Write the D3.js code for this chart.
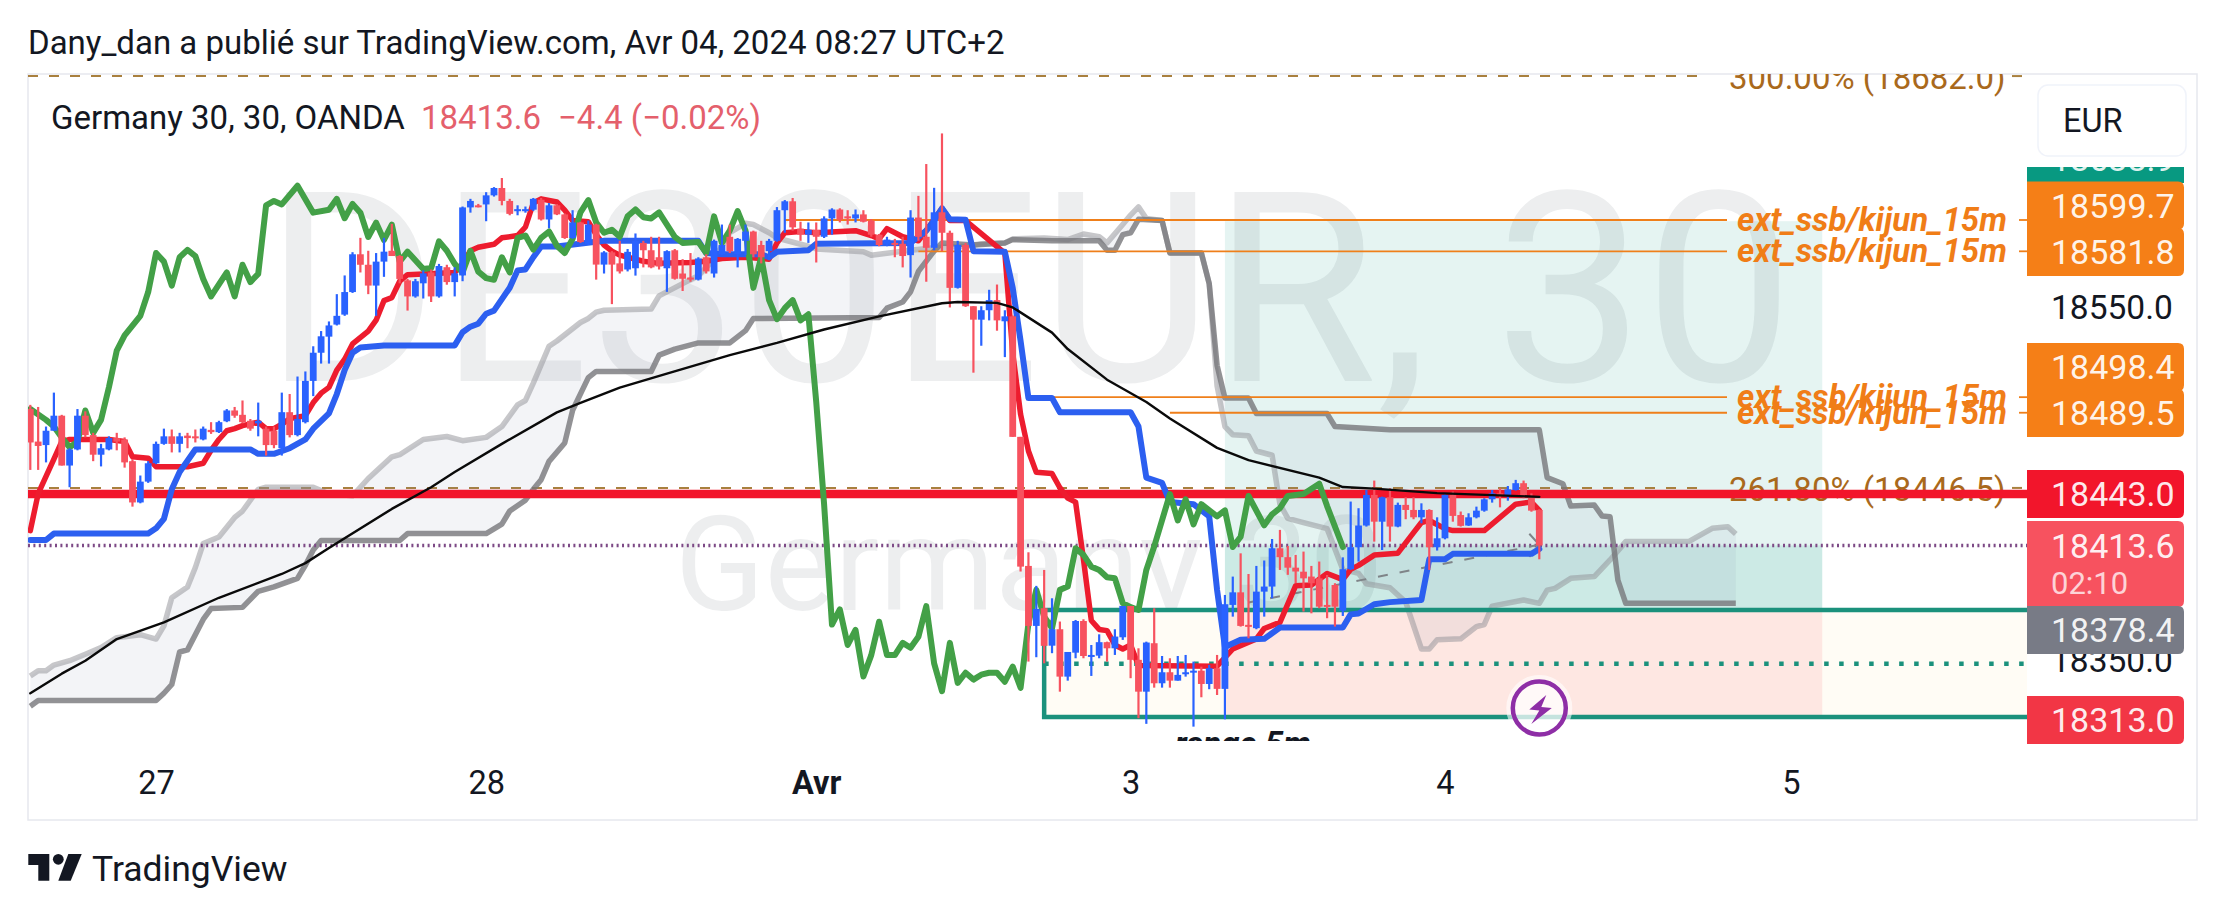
<!DOCTYPE html>
<html><head><meta charset="utf-8">
<script src="https://cdn.jsdelivr.net/npm/d3@7/dist/d3.min.js"></script>
<style>html,body{margin:0;padding:0;background:#fff}svg{display:block;font-family:Roboto,sans-serif}</style>
</head><body><div id="c"></div>
<script>
// [open, high, low, close] per 30-minute bar
const ohlc=[
[18491.6,18494,18456.8,18472.5],[18473,18492.8,18456.8,18470.5],[18471,18481.6,18461.1,18479.2],[18479.2,18501,18479.2,18487.8],[18487.8,18488.3,18459.3,18459.3],
[18459.3,18469.2,18446.9,18468.5],[18468.5,18491.6,18468,18487.8],[18487.8,18490.3,18475.4,18476.7],[18476.7,18478,18461.8,18465.5],[18465.5,18471.7,18458.8,18469.2],
[18468.5,18476,18468,18475],[18475,18478,18468,18473],[18474.2,18475.4,18458.1,18461.1],[18461.8,18463,18435.8,18438.2],[18438.2,18453.6,18437.7,18450.1],
[18450.1,18461.8,18449.4,18460.6],[18460.6,18473,18460.1,18471.7],[18471.7,18480.4,18471.2,18476],[18476,18479.9,18466.8,18471.7],[18471.7,18478,18466.8,18476],
[18476.4,18478,18469.2,18475],[18476,18479.9,18472.5,18475],[18474.2,18481.6,18473.7,18480.4],[18479.7,18484.1,18477.4,18478.4],[18478.4,18484.9,18477.9,18484.1],
[18484.6,18491.6,18484.1,18490.8],[18490.8,18492.8,18486.6,18487.8],[18488.3,18496.5,18483.4,18484.1],[18484.9,18485.9,18479.2,18480.4],[18483.4,18495.3,18476,18484.9],
[18480.4,18481.6,18465,18471],[18479.2,18481.6,18469.2,18471],[18469.2,18501,18465,18489.8],[18489.8,18500.2,18475.4,18476.7],[18476.7,18510.2,18476,18485.9],
[18484.1,18513.1,18483.4,18507.7],[18507.7,18527.5,18499,18523.8],[18523.8,18536.2,18517.6,18533.2],[18533,18541.7,18517.6,18539.4],[18539.9,18557.3,18539.4,18544.9],
[18545.6,18568,18544.9,18558.5],[18558.5,18581.3,18558,18580.1],[18580.1,18589.5,18569.7,18574.1],[18574.1,18582.1,18557.3,18562.2],[18562.2,18580.8,18544.9,18575.9],
[18575.9,18589.5,18567.2,18581.6],[18582.1,18597.5,18579.1,18579.1],[18579.1,18579.6,18563.5,18566],[18565.2,18566,18547.9,18556],[18556,18566,18555.3,18564.7],
[18563.5,18570.9,18554.8,18569.2],[18569.7,18571.4,18552.8,18556],[18556,18574.6,18555.3,18573.4],[18572.7,18574.1,18562.7,18564.2],[18564.2,18572.7,18556,18569.2],
[18568,18607.4,18564.7,18606.9],[18606.9,18611.8,18603.9,18610.6],[18608.1,18608.9,18606.9,18607.4],[18608.6,18615.6,18599,18613.8],[18613.8,18618.5,18613.1,18618],
[18618,18623.7,18608.1,18610.6],[18610.6,18611.8,18602.4,18603.2],[18605.1,18608.1,18602.4,18605.9],[18605.1,18607.4,18603.9,18605.9],[18605.6,18612.3,18604.9,18611.8],
[18611.3,18612.3,18599.4,18600],[18600,18609.4,18595,18608.1],[18608.1,18608.8,18602.5,18602.9],[18602.9,18603.4,18588.9,18589.4],[18589.4,18605.3,18588.9,18598.3],
[18598.3,18598.7,18586.6,18587.1],[18586.1,18599.4,18585.4,18597.1],[18597.1,18597.6,18565.6,18574.2],[18574.2,18581.9,18569.1,18581.2],[18581.2,18581.9,18551.6,18574.2],
[18574.9,18587.8,18569.1,18570.3],[18571.4,18583.1,18570.3,18581.5],[18572.1,18592,18567.9,18587.8],[18586.6,18587.8,18572.6,18582.4],[18582.4,18590.1,18572.1,18572.6],
[18578.4,18590.1,18571.4,18573.1],[18572.1,18582.4,18558.6,18581.9],[18582.4,18583.1,18565.6,18566.1],[18569.1,18577.3,18559.1,18566.1],[18566.8,18580.8,18564.4,18565.6],
[18565.6,18578.4,18565.1,18577.7],[18578.4,18580.1,18569.1,18570.3],[18569.1,18588.5,18566.8,18587.8],[18580.1,18597.1,18579.6,18585.4],[18590.1,18597.1,18580.8,18581.9],
[18580.1,18589.4,18572.6,18588.9],[18587.8,18597.1,18579.6,18593.1],[18593.1,18593.6,18578.4,18580.1],[18585.4,18587.8,18574.9,18578.4],[18581.9,18588.9,18576.8,18587.8],
[18587.8,18607.1,18587.3,18605.3],[18605.3,18611.1,18592.4,18610.4],[18610.4,18612.3,18593.6,18595.5],[18594.8,18598.7,18587.8,18591.3],[18591.3,18598.3,18586.6,18594.1],
[18594.1,18598.3,18575.4,18590.1],[18590.1,18601.8,18589.4,18600.6],[18600.6,18606.4,18591.3,18605.7],[18605.7,18606.4,18598.3,18599.9],[18601.8,18605.3,18597.1,18600.6],
[18600.6,18605.7,18598.3,18602.9],[18602.9,18605.3,18598.3,18598.7],[18599.4,18600.2,18590.1,18591.3],[18591.3,18591.7,18584.7,18585.4],[18586.1,18590.1,18584.7,18588.5],
[18586.6,18588.9,18578.4,18586.1],[18586.1,18590.1,18572.6,18579.1],[18579.6,18605.3,18566.8,18601.1],[18601.1,18613.5,18587.8,18590.1],[18590.1,18631.7,18564.4,18583.8],
[18583.8,18618.1,18582.4,18604.1],[18604.1,18649.2,18581.9,18592.4],[18592.4,18593.6,18549.7,18560.9],[18560.9,18587.8,18560.5,18585.4],[18585.4,18586.6,18550,18550.4],
[18550.4,18550.4,18512.4,18542.7],[18542.7,18550.4,18527.8,18548.1],[18548.1,18559.8,18542.3,18553.9],[18553.9,18562.8,18536.4,18542.3],[18541.8,18548.1,18521.3,18544.6],
[18544.6,18545.1,18475.7,18475.7],[18475.7,18475.7,18398.7,18401.5],[18401.9,18409.7,18347.2,18367.6],[18367.6,18390.5,18349.7,18377.3],[18377.7,18399.6,18346.2,18356.2],
[18356.3,18383.4,18352,18365.7],[18365.7,18370.1,18330,18338.6],[18338.6,18352.7,18336.3,18352.7],[18352.3,18371,18349.1,18370.4],[18370.4,18371.4,18349.1,18350.4],
[18350.4,18356.7,18339,18351],[18350.6,18362.8,18349.1,18358.3],[18358.3,18358.6,18347.2,18354.8],[18354.8,18365.7,18351,18361.5],[18361.1,18379,18359.6,18379],
[18379,18379,18337.7,18348.2],[18348.2,18354.8,18314.8,18330],[18330,18358.6,18311.6,18358.1],[18357.7,18377.7,18332.3,18334.8],[18334.8,18350.4,18332.3,18341.1],
[18341.1,18349.1,18332.3,18336.3],[18336.3,18350.4,18336.3,18339.6],[18340.1,18351,18338.6,18341.1],[18341.3,18347.2,18310,18342],[18342,18344.3,18326.8,18334.4],
[18334.4,18345.3,18331.4,18343.4],[18343.4,18351,18328.1,18331.6],[18331.6,18385.3,18314.2,18380],[18379.6,18395.8,18372.9,18386.8],[18386.8,18409.1,18367.2,18367.6],
[18368.2,18397.3,18360.5,18367.6],[18366.3,18401.9,18365.7,18387.2],[18387.2,18405,18372.9,18390.1],[18390.1,18417.3,18383.4,18412],[18412,18422.5,18399.6,18406.9],
[18406.9,18413.3,18396.8,18400.9],[18400.9,18408.2,18392,18398.7],[18398.6,18410.1,18375.8,18394.8],[18395.8,18401.9,18374.8,18392],[18394.8,18404.4,18377.7,18378.6],
[18379.6,18396.7,18372,18378.6],[18391,18392,18367.2,18378.6],[18376.3,18406.8,18373.3,18400],[18400,18438.7,18399.6,18412.6],[18412.6,18434.9,18404.4,18425],
[18425,18445.3,18424.4,18442.5],[18442.5,18450.7,18415.8,18427.2],[18427.2,18441.5,18411,18441.2],[18441.2,18446.3,18415.8,18424.4],[18424.4,18438.1,18424,18436.8],
[18436.8,18441.2,18428.6,18433.9],[18433.9,18441.2,18428.6,18429.7],[18429.7,18437.7,18426.3,18433.9],[18433.9,18434.3,18399.6,18412.6],[18412.6,18429.7,18410.7,18417.7],
[18417.7,18442.9,18417.1,18442.5],[18442.5,18444.4,18427.2,18430.5],[18431,18433,18424.4,18424.8],[18425,18432,18424.8,18429.7],[18429.7,18435.8,18429.1,18433.5],
[18433.5,18440.6,18432.9,18440],[18440,18445.3,18438.1,18443.4],[18443.4,18446.3,18435.4,18443],[18441.5,18447.6,18439.2,18445.7],[18445.3,18451.1,18445,18449.2],
[18449.2,18450.7,18440.6,18441.2],[18441.2,18443.4,18432.9,18433.5],[18433.9,18434.3,18405.7,18413.6]];

// indicator lines: [bar index, price]
const chikou=[[0,18491.6],[2,18485.4],[3,18481.6],[4,18475.4],[5,18469.7],[6,18473],[7,18490.8],[8,18478],[9,18485.4],[10,18504],[11,18525],[12,18533.7],[14,18544.9],[15,18558.5],[16,18580.8],[17,18575.9],[18,18562.2],[19,18578.4],[20,18582.6],[21,18579.1],[22,18566],[23,18556],[25,18569.7],[26,18556],[27,18574.1],[28,18564.2],[29,18568.9],[30,18608.1],[31,18610.6],[32,18608.6],[34,18619.3],[36,18603.9],[38,18605.6],[39,18611.8],[40,18600.7],[41,18608.9],[42,18603.9],[43,18590],[44,18598.2],[45,18588.3],[46,18597],[47,18575.9],[48,18581.6],[50,18571.7],[51,18572.2],[52,18587.5],[53,18582.1],[54,18574.6],[55,18569.7],[56,18582.1],[57,18570.2],[58,18566.5],[59,18565.5],[60,18578.4],[61,18569.7],[62,18589.5],[63,18590.8],[64,18582.8],[65,18589.5],[66,18593.1],[67,18585],[68,18580.8],[69,18588.9],[70,18604.1],[71,18611.1],[72,18598.3],[73,18592.4],[74,18594.1],[75,18590.1],[76,18601.8],[77,18605.7],[78,18601.3],[79,18600.6],[80,18604.1],[81,18597.1],[82,18590.1],[83,18586.6],[85,18587.1],[86,18580.8],[87,18601.8],[88,18586.6],[89,18593.6],[90,18604.8],[91,18593.6],[92,18560.9],[93,18578.4],[94,18553.9],[95,18543],[96,18549.3],[97,18553.9],[98,18542.3],[99,18545.8],[100,18495.6],[101,18437.2],[102,18368.4],[103,18377],[104,18356.7],[105,18365.3],[106,18338.7],[107,18350.9],[108,18370],[109,18350.9],[110,18350.9],[111,18357.9],[112,18355.1],[113,18361.4],[114,18378.9],[115,18346.2],[116,18330.3],[117,18357.9],[118,18335],[119,18340.8],[120,18336.9],[121,18339.7],[122,18340.8],[123,18340.8],[124,18335.7],[125,18344.3],[126,18332.2],[127,18369.1],[128,18388.2],[129,18372.9],[130,18366.3],[131,18388.2],[132,18390.1],[133,18412],[134,18408.2],[135,18401.5],[136,18399.6],[137,18395.4],[138,18394.8],[139,18380.6],[140,18378.3],[141,18376.7],[142,18399.6],[143,18413],[145,18443],[146,18427.9],[147,18440],[148,18425.6],[149,18437.2],[151,18430.2],[152,18433.7],[153,18412.7],[154,18418.6],[155,18441.9],[157,18425.1],[158,18431.4],[159,18434.9],[160,18441.9],[162,18443],[164,18448.9],[165,18436.1],[167,18412.7]];
const tenkan=[[0,18422.1],[1,18443.2],[2,18453.1],[3,18463],[4,18473],[5,18474.2],[10,18474.2],[12,18473],[13,18464.3],[15,18463.5],[16,18458.6],[20,18458.6],[22,18460.6],[23,18468],[24,18474.2],[25,18479.2],[26,18480.4],[27,18482.1],[29,18484.1],[30,18480.4],[31,18480.4],[32,18482.9],[33,18486.1],[35,18487.8],[36,18495.3],[37,18500.7],[38,18504],[39,18513.9],[40,18520.1],[41,18528.8],[43,18536.2],[44,18542.4],[45,18553.6],[46,18555.3],[47,18564.7],[48,18568.4],[54,18569.7],[55,18574.6],[56,18582.1],[57,18584.1],[59,18585.8],[60,18589.5],[62,18590.8],[63,18595.7],[64,18609.4],[65,18611.8],[67,18610],[68,18605.3],[69,18599.4],[71,18598.7],[72,18591.3],[73,18585.4],[74,18581.9],[75,18579.6],[78,18576.1],[80,18574.9],[84,18575.4],[86,18576.1],[88,18577.7],[91,18578.4],[94,18577.3],[95,18586.6],[96,18592.4],[98,18593.1],[100,18592.4],[105,18593.6],[107,18590.8],[108,18588.9],[109,18594.8],[111,18590.1],[113,18587.8],[114,18593.6],[116,18606.4],[117,18599.4],[119,18599.4],[124,18580.8],[125,18523.6],[126,18488.6],[127,18467.6],[128,18455.4],[130,18454.7],[131,18446.6],[132,18440.7],[133,18438.4],[134,18405.7],[135,18370.7],[136,18365.6],[137,18364.9],[138,18356.7],[139,18354.4],[140,18356.7],[141,18345],[151,18344.6],[153,18354.4],[156,18360.2],[157,18366.1],[159,18369.6],[161,18390.6],[163,18391],[165,18397.6],[167,18394.1],[168,18399.9],[169,18402.2],[171,18408.1],[174,18409.2],[176,18420.9],[177,18426.7],[178,18427.9],[180,18423.2],[181,18422.1],[185,18422.1],[189,18437.2],[191,18438.4],[192,18433.7]];
const kijun=[[0,18416.7],[2,18416.7],[3,18420.4],[15,18420.4],[16,18423.4],[17,18428.8],[18,18445.7],[19,18455.6],[21,18468.5],[28,18468.5],[29,18466],[31,18466],[33,18469.2],[35,18474.2],[36,18480.4],[38,18489.1],[39,18500.2],[40,18513.9],[41,18523.8],[42,18526.8],[45,18528],[54,18528],[55,18535.5],[56,18538.7],[57,18540.4],[58,18546.1],[59,18547.9],[61,18561],[62,18570.9],[63,18571.4],[64,18578.4],[65,18584.6],[67,18584.6],[73,18587.8],[85,18587.8],[86,18580.8],[88,18580.1],[93,18580.1],[94,18578.4],[95,18581.5],[99,18582.4],[100,18586.1],[112,18586.6],[114,18593.6],[115,18599.4],[116,18606.4],[117,18600.1],[119,18599.9],[120,18581.9],[124,18581.5],[125,18560.9],[126,18530.6],[127,18497.9],[130,18497.9],[131,18489.8],[140,18489.8],[141,18481.6],[142,18452.4],[144,18449.4],[145,18438.4],[148,18437.2],[150,18430.2],[151,18388.2],[152,18355.5],[154,18359.7],[157,18360.2],[159,18366.7],[167,18366.7],[168,18374.2],[169,18374.7],[171,18380],[173,18381.2],[177,18382.4],[178,18405.7],[180,18405.7],[181,18408.8],[191,18408.8],[192,18411.6]];
const senkouA=[[0,18339],[1,18342],[2,18342],[3,18345.2],[5,18347.7],[7,18351.4],[9,18355.2],[11,18360.9],[12,18361.4],[14,18362.6],[16,18360.1],[17,18367.6],[18,18383.7],[20,18389.9],[21,18401],[22,18414.7],[24,18418.4],[26,18429.6],[27,18433.3],[29,18445.7],[30,18446.9],[36,18446.9],[38,18443.2],[41,18442],[43,18451.9],[46,18464.3],[47,18465.5],[50,18474.2],[53,18475.9],[55,18473.5],[58,18475.4],[60,18481.6],[62,18494],[63,18496.5],[64,18506.4],[66,18527.5],[67,18530.5],[70,18541.1],[71,18543.4],[72,18547],[73,18548.1],[79,18548.8],[80,18556.3],[83,18563.3],[85,18567.9],[87,18577.3],[89,18592.4],[91,18597.8],[92,18597.1],[94,18592.4],[95,18589.4],[99,18584.7],[100,18583.1],[106,18581.5],[107,18579.6],[112,18582.4],[115,18583.8],[119,18584.7],[121,18586.1],[124,18586.6],[125,18588.9],[129,18589.4],[132,18588.5],[134,18591.7],[136,18590.1],[137,18586.6],[139,18597.1],[140,18602.5],[141,18607.2],[142,18600.6],[144,18599.4],[145,18580.8],[149,18580.8],[150,18563.3],[151,18504.9],[152,18481.6],[153,18476.9],[155,18476.4],[156,18467.6],[158,18465.2],[159,18437.2],[160,18429.1],[162,18426.7],[165,18423.2],[166,18411.6],[167,18399.9],[169,18397.6],[170,18391.7],[173,18389.4],[175,18381.2],[177,18354.4],[178,18354.4],[179,18359.7],[182,18360.2],[184,18367.2],[185,18368.4],[186,18378.9],[190,18382.4],[192,18380.5],[193,18388.1],[194,18389.1],[196,18394.8],[199,18395.8],[201,18405.3],[203,18415.8],[211,18415.8],[214,18423.4],[216,18424.3],[217,18420.2]];
const senkouB=[[0,18321.7],[1,18324.9],[16,18324.9],[17,18329.1],[18,18334.1],[19,18352.7],[20,18353.9],[22,18371.3],[23,18377.5],[27,18378.2],[29,18387.4],[31,18389.9],[34,18394.8],[35,18402.3],[36,18411],[37,18416.4],[47,18416.4],[48,18420.4],[58,18420.4],[60,18425.8],[61,18433.3],[63,18439.5],[64,18445.7],[65,18451.2],[66,18461.7],[68,18472.2],[69,18490.9],[71,18509.6],[72,18513.1],[79,18513.1],[80,18522.4],[82,18525.9],[85,18529.4],[89,18529.4],[91,18536.4],[92,18543.4],[108,18543.9],[109,18549.3],[111,18552.8],[112,18558.6],[113,18570.3],[115,18582],[116,18586.6],[120,18585.4],[124,18586.6],[125,18588.5],[130,18587.8],[136,18587.8],[137,18582.4],[138,18582.4],[139,18591.3],[140,18592.4],[141,18600.1],[144,18599.4],[145,18580.8],[149,18580.8],[150,18563.3],[151,18516.6],[152,18497.9],[155,18497.9],[156,18489],[165,18489],[166,18481.6],[173,18479.7],[192,18479.7],[193,18452.4],[195,18448.9],[196,18436.1],[199,18436.7],[200,18430.4],[201,18430],[202,18393.8],[203,18380.5],[217,18380.5]];
const ema=[[0,18329.1],[4,18340.3],[7,18347.7],[11,18360.1],[17,18369.6],[24,18383.7],[32,18397.3],[35,18403.5],[38,18412.2],[46,18434.5],[51,18446.9],[54,18455.6],[60,18471.7],[67,18489.7],[70,18495.1],[75,18503.8],[81,18511.9],[89,18522.4],[95,18529.4],[101,18537.1],[108,18544.6],[116,18552.1],[118,18552.8],[123,18552.3],[125,18549.7],[130,18535.3],[132,18525.9],[137,18508.4],[142,18495.6],[145,18486.2],[151,18469.4],[155,18462.4],[164,18452.4],[167,18447],[171,18446.1],[179,18443.5],[186,18442.4],[192,18441.4]];

// horizontal levels
const ssbLevels=[18599.7,18581.8,18498.4,18489.5];
const ssbStarts=[96,113,130,145];
const ssbLabel="ext_ssb/kijun_15m";
const fibLevels=[18682.0,18446.5];
const fibLabels=["300.00% (18682.0)","261.80% (18446.5)"];
const alertLevel=18443.0, lastPrice=18413.6;
const rangeTop=18376.7, rangeMid=18346, rangeBottom=18315.5;
const boxStartBar=129, profitStartBar=152, profitEndBar=228, profitTop=18599;
const trendFrom=[155,18381], trendTo=[192,18414];

// price-scale tags: value text, colour, vertical centre of the tag
const tagTexts=["18599.7","18581.8","18498.4","18489.5","18443.0","18378.4","18313.0"];
const tagColors=["#f57f17","#f57f17","#f57f17","#f57f17","#f2152b","#787b86","#f23645"];
const tagCentres=[205.5,252,367,413,494,630,720];
const axisPrices=[18550,18350];
const dayTicks=[16,58,100,140,180,224];
const dayNames=["27","28","Avr","3","4","5"];

const W=2225,H=916,L=28,R=2197,T=74,B=820,PR=2027,PB=741;
const svg=d3.select("#c").append("svg").attr("width",W).attr("height",H).attr("viewBox",`0 0 ${W} ${H}`);
const x=d3.scaleLinear().domain([0,192]).range([30.3,1539.3]);
const y=d3.scaleLinear().domain([18599.7,18313]).range([220,721.4]);

svg.append("defs").append("clipPath").attr("id","plot").append("rect").attr("x",L).attr("y",T).attr("width",PR-L).attr("height",PB-T);
svg.select("defs").append("clipPath").attr("id","tealTag").append("rect").attr("x",PR).attr("y",167).attr("width",160).attr("height",15);

// header
svg.append("text").attr("x",28).attr("y",54).attr("font-size",33).attr("fill","#131722").text("Dany_dan a publié sur TradingView.com, Avr 04, 2024 08:27 UTC+2");
// pane frame
svg.append("rect").attr("x",L).attr("y",T).attr("width",R-L).attr("height",B-T).attr("fill","#fff").attr("stroke","#e6e8ee").attr("stroke-width",1.5);

const plot=svg.append("g").attr("clip-path","url(#plot)");
// watermark
plot.append("text").attr("x",1029).attr("y",381).attr("text-anchor","middle").attr("font-size",266).attr("fill","#131722").attr("fill-opacity",.075).text("DE30EUR, 30");
plot.append("text").attr("x",1029).attr("y",610).attr("text-anchor","middle").attr("font-size",132).attr("fill","#131722").attr("fill-opacity",.075).text("Germany 30");

// range and position boxes
plot.append("rect").attr("x",x(boxStartBar)).attr("y",y(rangeTop)).attr("width",PR-x(boxStartBar)).attr("height",y(rangeBottom)-y(rangeTop)).attr("fill","#fffcf5");
plot.append("rect").attr("x",x(profitStartBar)).attr("y",y(profitTop)).attr("width",x(profitEndBar)-x(profitStartBar)).attr("height",y(rangeTop)-y(profitTop)).attr("fill","#089981").attr("fill-opacity",.105);
plot.append("rect").attr("x",x(profitStartBar)).attr("y",y(lastPrice)).attr("width",x(profitEndBar)-x(profitStartBar)).attr("height",y(rangeTop)-y(lastPrice)).attr("fill","#089981").attr("fill-opacity",.11);
plot.append("rect").attr("x",x(profitStartBar)).attr("y",y(rangeTop)).attr("width",x(profitEndBar)-x(profitStartBar)).attr("height",y(rangeBottom)-y(rangeTop)).attr("fill","#f23645").attr("fill-opacity",.105);

// fib levels and labels
fibLevels.forEach((v,i)=>{
  plot.append("line").attr("x1",L).attr("x2",1708).attr("y1",y(v)).attr("y2",y(v)).attr("stroke","#a9803e").attr("stroke-width",2).attr("stroke-dasharray","10 11");
  plot.append("line").attr("x1",2012).attr("x2",PR).attr("y1",y(v)).attr("y2",y(v)).attr("stroke","#a9803e").attr("stroke-width",2).attr("stroke-dasharray","10 11");
  plot.append("text").attr("x",1729).attr("y",y(v)+13).attr("font-size",33).attr("fill","#a9691c").text(fibLabels[i]);
});

// Ichimoku cloud
const line=d3.line().x(d=>x(d[0])).y(d=>y(d[1]));
plot.append("path").attr("d",line(senkouA.concat(senkouB.slice().reverse()))+"Z").attr("fill","#787ba8").attr("fill-opacity",.085);
plot.append("path").attr("d",line(senkouA)).attr("fill","none").attr("stroke","#8f8f96").attr("stroke-opacity",.5).attr("stroke-width",5.5).attr("stroke-linejoin","round");
plot.append("path").attr("d",line(senkouB)).attr("fill","none").attr("stroke","#77777b").attr("stroke-opacity",.8).attr("stroke-width",5.5).attr("stroke-linejoin","round");

// range outline
plot.append("path").attr("d",`M${PR},${y(rangeTop)}H${x(boxStartBar)}V${y(rangeBottom)}H${PR}`).attr("fill","none").attr("stroke","#1b917c").attr("stroke-width",4.5);
plot.append("line").attr("x1",x(boxStartBar)).attr("x2",PR).attr("y1",y(rangeMid)).attr("y2",y(rangeMid)).attr("stroke","#1b917c").attr("stroke-width",4.5).attr("stroke-dasharray","4.5 10.5");

// orange levels
ssbLevels.forEach((v,i)=>{
  plot.append("line").attr("x1",x(ssbStarts[i])).attr("x2",1727).attr("y1",y(v)).attr("y2",y(v)).attr("stroke","#ef7f1a").attr("stroke-width",1.8);
  plot.append("line").attr("x1",2019).attr("x2",PR).attr("y1",y(v)).attr("y2",y(v)).attr("stroke","#ef7f1a").attr("stroke-width",1.8);
  plot.append("text").attr("x",1737).attr("y",y(v)+11).attr("font-size",33).attr("font-weight",700).attr("font-style","italic").attr("fill","#f07d17").text(ssbLabel);
});

// alert level and last price
plot.append("line").attr("x1",L).attr("x2",PR).attr("y1",y(alertLevel)).attr("y2",y(alertLevel)).attr("stroke","#f2152b").attr("stroke-width",8.5);
plot.append("line").attr("x1",L).attr("x2",PR).attr("y1",y(lastPrice)).attr("y2",y(lastPrice)).attr("stroke","#7d4a86").attr("stroke-width",3.5).attr("stroke-dasharray","2 3.4");

// trend
plot.append("line").attr("x1",x(trendFrom[0])).attr("y1",y(trendFrom[1])).attr("x2",x(trendTo[0])).attr("y2",y(trendTo[1])).attr("stroke","#7f8488").attr("stroke-width",2).attr("stroke-dasharray","10 12");
plot.append("path").attr("d",`M${x(trendTo[0])-10},${y(trendTo[1])-11}L${x(trendTo[0])},${y(trendTo[1])}L${x(trendTo[0])-10},${y(trendTo[1])+12}`).attr("fill","none").attr("stroke","#7f8488").attr("stroke-width",2);

// tenkan, kijun, chikou
const stroke=(data,color,w)=>plot.append("path").attr("d",line(data)).attr("fill","none").attr("stroke",color).attr("stroke-width",w).attr("stroke-linejoin","round").attr("stroke-linecap","round");
stroke(tenkan,"#ed1c2e",5.5);
stroke(kijun,"#2c5ff0",6);
stroke(chikou,"#43a047",6);

// candles
const up="#2962ff",down="#f7525f";
const cg=plot.append("g");
cg.selectAll("line").data(ohlc).join("line")
  .attr("x1",(d,i)=>x(i)).attr("x2",(d,i)=>x(i)).attr("y1",d=>y(d[1])).attr("y2",d=>y(d[2]))
  .attr("stroke",d=>d[3]>=d[0]?up:down).attr("stroke-width",2.2);
cg.selectAll("rect").data(ohlc).join("rect")
  .attr("x",(d,i)=>x(i)-3.4).attr("width",6.8)
  .attr("y",d=>y(Math.max(d[0],d[3]))).attr("height",d=>Math.max(2,Math.abs(y(d[0])-y(d[3]))))
  .attr("fill",d=>d[3]>=d[0]?up:down);

// EMA on top
stroke(ema,"#0a0a0a",2.4);

// range text clipped by the pane
plot.append("text").attr("x",1175).attr("y",755).attr("font-size",33).attr("font-weight",700).attr("font-style","italic").attr("fill","#131722").text("range 5m");

// bolt badge
const bolt=svg.append("g").attr("transform",`translate(${x(192)},708)`);
bolt.append("circle").attr("r",29).attr("fill","#fff").attr("fill-opacity",.75).attr("stroke","#fff").attr("stroke-width",8).attr("stroke-opacity",.6);
bolt.append("circle").attr("r",26.5).attr("fill","none").attr("stroke","#8e2ea6").attr("stroke-width",4.5);
bolt.append("path").attr("d","M7,-13L-10,1.5L0,2.5L-8,16L12.5,0L2,-1Z").attr("fill","#8e2ea6");

// price scale
const axisR=d3.axisRight(y).tickValues(axisPrices).tickSize(0).tickFormat(d3.format(".1f"));
const ga=svg.append("g").attr("transform",`translate(${PR},0)`).call(axisR);
ga.select(".domain").remove();
ga.selectAll("text").attr("x",24).attr("dy",null).attr("dominant-baseline","central").attr("font-size",33.5).attr("font-family","Roboto").attr("fill","#131722");
ga.selectAll(".tick").attr("transform",d=>`translate(0,${d===18550?307.5:660})`);

// clipped take-profit tag
svg.append("rect").attr("x",PR).attr("y",167).attr("width",157).attr("height",16).attr("fill","#089981");
svg.append("text").attr("clip-path","url(#tealTag)").attr("x",2051).attr("y",171).attr("font-size",34).attr("fill","#fff").attr("fill-opacity",.9).text("18638.9");

// tags
const tagPath=(yc,h)=>{const t=yc-h/2,b=yc+h/2,r=PR+157,c=6;return `M${PR},${t}H${r-c}Q${r},${t} ${r},${t+c}V${b-c}Q${r},${b} ${r-c},${b}H${PR}Z`;};
tagTexts.forEach((t,i)=>{
  if(t==="18443.0"||t==="18378.4")return;
  svg.append("path").attr("d",tagPath(tagCentres[i],48)).attr("fill",tagColors[i]);
  svg.append("text").attr("x",2051).attr("y",tagCentres[i]).attr("dominant-baseline","central").attr("font-size",34).attr("fill","#fff").attr("fill-opacity",.92).text(t);
});
// last-price tag with countdown
svg.append("path").attr("d",tagPath(564,86)).attr("fill","#f7525f");
svg.append("text").attr("x",2051).attr("y",546).attr("dominant-baseline","central").attr("font-size",34).attr("fill","#fff").attr("fill-opacity",.92).text("18413.6");
svg.append("text").attr("x",2051).attr("y",583).attr("dominant-baseline","central").attr("font-size",31).attr("fill","#fff").attr("fill-opacity",.75).text("02:10");
["18443.0","18378.4"].forEach(t=>{
  const i=tagTexts.indexOf(t);
  svg.append("path").attr("d",tagPath(tagCentres[i],48)).attr("fill",tagColors[i]);
  svg.append("text").attr("x",2051).attr("y",tagCentres[i]).attr("dominant-baseline","central").attr("font-size",34).attr("fill","#fff").attr("fill-opacity",.92).text(t);
});

// currency button
svg.append("rect").attr("x",2038).attr("y",85).attr("width",148).attr("height",71).attr("rx",10).attr("fill","#fff").attr("stroke","#f0f3fa").attr("stroke-width",1.5);
svg.append("text").attr("x",2063).attr("y",120.5).attr("dominant-baseline","central").attr("font-size",32.5).attr("fill","#131722").text("EUR");

// legend
svg.append("text").attr("x",51).attr("y",129).attr("font-size",33).attr("fill","#131722").text("Germany 30, 30, OANDA");
svg.append("text").attr("x",421).attr("y",129).attr("font-size",33).attr("fill","#e4606c").text("18413.6");
svg.append("text").attr("x",558).attr("y",129).attr("font-size",33).attr("fill","#e4606c").text("−4.4 (−0.02%)");

// date axis
const axisB=d3.axisBottom(x).tickValues(dayTicks).tickSize(0).tickFormat((d,i)=>dayNames[i]);
const gb=svg.append("g").attr("transform","translate(0,741)").call(axisB);
gb.select(".domain").remove();
gb.selectAll("text").attr("y",42).attr("dy",null).attr("dominant-baseline","central").attr("font-size",32.5).attr("font-family","Roboto").attr("fill","#131722").attr("font-weight",(d,i)=>dayNames[i]==="Avr"?700:400);

// footer logo
const logo=svg.append("g").attr("fill","#131722");
logo.append("path").attr("d","M28.3,854H49.3V880.7H38.3V865H28.3Z");
logo.append("circle").attr("cx",58.3).attr("cy",859.3).attr("r",5.4);
logo.append("path").attr("d","M68.3,854H81.7L70.7,880.7H58.3Z");
svg.append("text").attr("x",92).attr("y",881).attr("font-size",35.5).attr("fill","#131722").text("TradingView");
</script></body></html>
